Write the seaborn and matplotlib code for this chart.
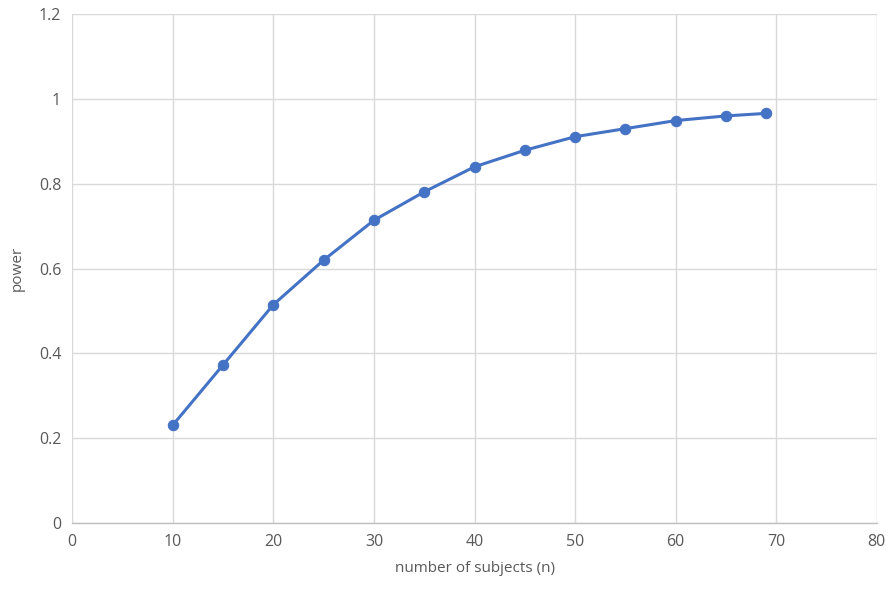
import matplotlib
matplotlib.use("Agg")
import matplotlib.pyplot as plt
import numpy as np
import pandas as pd
import seaborn as sns

# values
subjects = [10, 15, 20, 25, 30, 35, 40, 45, 50, 55, 60, 65, 69]
power = [0.231, 0.373, 0.515, 0.620, 0.714, 0.781, 0.840, 0.879, 0.911, 0.930, 0.949, 0.960, 0.966]

x_ticks = [0, 10, 20, 30, 40, 50, 60, 70, 80]
y_ticks = [0, 0.2, 0.4, 0.6, 0.8, 1.0, 1.2]
y_tick_labels = ["0", "0.2", "0.4", "0.6", "0.8", "1", "1.2"]

df = pd.DataFrame({"subjects": subjects, "power": power})

sns.set_theme(style="white")
plt.rcParams["font.family"] = ["Open Sans", "DejaVu Sans"]

fig = plt.figure(figsize=(8.92, 5.89), dpi=100)
ax = fig.add_axes([0.081, 0.112, 0.902, 0.864])

blue = "#4472C4"
text_col = "#595959"

sns.lineplot(data=df, x="subjects", y="power", ax=ax, color=blue, linewidth=2.2,
             marker="o", markersize=7.5, markeredgecolor=blue, markerfacecolor=blue)

ax.set_xlim(0, 80)
ax.set_ylim(0, 1.2)
ax.set_xticks(x_ticks)
ax.set_yticks(y_ticks)
ax.set_yticklabels(y_tick_labels)
ax.grid(True, color="#d9d9d9", linewidth=1)
ax.set_axisbelow(True)

for side in ["top", "right", "left"]:
    ax.spines[side].set_visible(False)
ax.spines["bottom"].set_color("#bfbfbf")
ax.spines["bottom"].set_linewidth(1)

ax.tick_params(axis="both", length=0, labelsize=11.5, labelcolor=text_col, pad=8)
ax.set_xlabel("number of subjects (n)", fontsize=11, color=text_col, labelpad=8)
ax.set_ylabel("power", fontsize=11, color=text_col, labelpad=10)

fig.savefig("out.png", dpi=100)
